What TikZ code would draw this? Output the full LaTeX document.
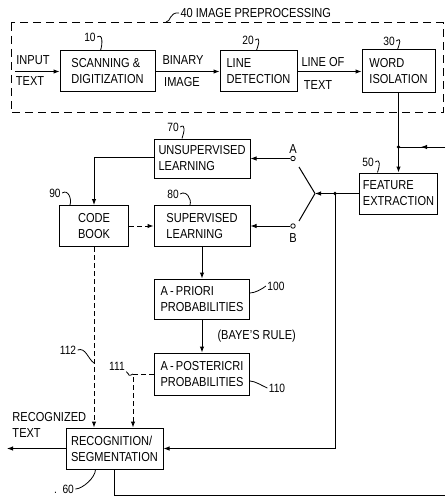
\documentclass[tikz,border=0pt]{standalone}
\usepackage{fontspec}
\setmainfont[FakeStretch=0.85]{Liberation Sans}
\usetikzlibrary{arrows.meta,positioning}
\tikzset{
  blk/.style={draw, line width=1pt, align=left, inner sep=3pt, font=\fontsize{13}{16}\selectfont},
  arr/.style={-{Latex[length=6pt,width=4.5pt]}},
  dsh/.style={dash pattern=on 5pt off 3pt},
  frame/.style={dash pattern=on 8pt off 5pt, line width=1pt},
  num/.style={font=\fontsize{12}{14}\selectfont, inner sep=1pt},
  txt/.style={font=\fontsize{13}{16}\selectfont, inner sep=1pt},
  hook/.style={line width=0.8pt},
  contact/.style={circle, draw, fill=white, inner sep=0pt, minimum size=4.5pt, line width=0.8pt},
}

\begin{document}
\begin{tikzpicture}[x=1pt,y=-1pt,line width=1pt]
\useasboundingbox (0,0) rectangle (445,500);
% preprocessing frame
\draw[frame] (11,23) rectangle (443,113);
\node[txt, anchor=west] (ttl) at (179,13) {40 IMAGE PREPROCESSING};
\draw[hook] (166,22) .. controls (171,22) and (169,12) .. (ttl.west);
% blocks
\node[blk, minimum width=95pt, minimum height=41pt] (scan) at (107.5,71.5) {SCANNING \&\\DIGITIZATION};
\node[blk, minimum width=77pt, minimum height=41pt] (line) at (258.5,71.5) {LINE\\DETECTION};
\node[blk, minimum width=73pt, minimum height=43pt] (word) at (398.5,71.5) {WORD\\ISOLATION};
\node[blk, minimum width=75pt, minimum height=41pt] (feat) at (398.5,193.5) {FEATURE\\EXTRACTION};
\node[blk, minimum width=96pt, minimum height=39pt] (unsup) at (202,158.5) {UNSUPERVISED\\LEARNING};
\node[blk, minimum width=69pt, minimum height=41pt, align=center] (code) at (94,226) {CODE\\BOOK};
\node[blk, minimum width=96pt, minimum height=41pt] (sup) at (202,226) {SUPERVISED\\LEARNING};
\node[blk, minimum width=95pt, minimum height=40pt] (prior) at (202,299) {A\,-\,PRIORI\\PROBABILITIES};
\node[blk, minimum width=95pt, minimum height=42pt] (post) at (202,374) {A\,-\,POSTERICRI\\PROBABILITIES};
\node[blk, minimum width=97pt, minimum height=41pt] (recog) at (114.5,448.5) {RECOGNITION/\\SEGMENTATION};
% free ends and junctions
\coordinate (inp) at (15,71.5);
\coordinate (j1) at (398.5,147);
\coordinate (fbR) at (445,147);
\coordinate (fbtip) at (421,147);
\coordinate (piv) at (315,193.5);
\coordinate (j2) at (335,193.5);
\coordinate (bladeA) at (299,167);
\coordinate (bladeB) at (299,221);
\coordinate (c111) at (133,374);
\coordinate (h112) at (94,363);
\coordinate (fbB) at (445,495);
\coordinate (outp) at (7,448.5);
\node[contact] (ca) at (293,158.5) {};
\node[contact] (cb) at (293,226) {};
\node[txt] (la) at (293,149) {A};
\node[txt] (lb) at (293,238) {B};
% text on the top row
\node[txt] (lin) at (33,60) {INPUT};
\node[txt] (lint) at (30,81) {TEXT};
\node[txt] (lbin) at (183,60) {BINARY};
\node[txt] (limg) at (182,82) {IMAGE};
\node[txt] (llof) at (323,62) {LINE OF};
\node[txt] (lltx) at (318,85) {TEXT};
\node[txt, align=left, anchor=west] (rtxt) at (11,425) {RECOGNIZED\\TEXT};
% connectors
\draw[arr] (inp) -- (scan.west);
\draw[arr] (scan.east) -- (line.west);
\draw[arr] (line.east) -- (word.west);
\draw (word.south) -- (j1);
\draw[arr] (j1) -- (feat.north);
\draw (fbR) -- (j1);
\draw[arr] (fbR) -- (fbtip);
\fill (j1) circle (1.8pt);
\draw[arr] (feat.west) -- (piv);
\fill (j2) circle (1.8pt);
\draw (piv) -- (bladeA);
\draw (piv) -- (bladeB);
\draw[arr] (ca) -- (unsup.east);
\draw[arr] (cb) -- (sup.east);
\draw[arr] ([yshift=1.5pt]unsup.west) -| (code.north);
\draw[dsh,arr] (code.east) -- (sup.west);
\draw[arr] (sup.south) -- (prior.north);
\draw[arr] (prior.south) -- node[txt, right=14pt] (bayes) {(BAYE'S RULE)} (post.north);
\draw[dsh,arr] (code.south) -- (code.south |- recog.north);
\draw[dsh,arr] (post.west) -- (c111) -- (c111 |- recog.north);
\draw[arr] (j2) |- (recog.east);
\draw (recog.south) |- (fbB);
\draw[arr] (recog.west) -- (outp);
% reference numerals
\foreach \n/\pos in {10/{90,37},20/{248,40},30/{389,41},50/{368,162},70/{173,127},80/{173,194},90/{55,193}} {
  \node[num] (n\n) at (\pos) {\n};
}
\foreach \n/\b/\dx in {10/scan/-7,20/line/-2,30/word/-1,50/feat/-21,70/unsup/-20,80/sup/-12,90/code/-24} {
  \draw[hook] (n\n.east) .. controls +(6,-4) and +(2,-6) .. ([xshift=\dx pt]\b.north);
}
\node[num] (n100) at (276,286) {100};
\node[num] (n110) at (277,388) {110};
\node[num] (n111) at (117,366) {111};
\node[num] (n112) at (68,350) {112};
\node[num] (n60) at (64,489) {.\ \ 60};
\draw[hook] ([yshift=6pt]prior.east) .. controls +(5,0) and +(-4,3) .. (n100.west);
\draw[hook] ([yshift=-7pt]post.east) .. controls +(5,0) and +(-5,-2) .. (n110.west);
\draw[hook] (n111.south east) .. controls +(4,3) and +(-6,3) .. (c111);
\draw[hook] (n112.east) .. controls +(8,-3) and +(-6,-4) .. (h112);
\draw[hook] (n60.east) .. controls +(7,0) and +(0,8) .. ([xshift=-19pt]recog.south);
\end{tikzpicture}
\end{document}
